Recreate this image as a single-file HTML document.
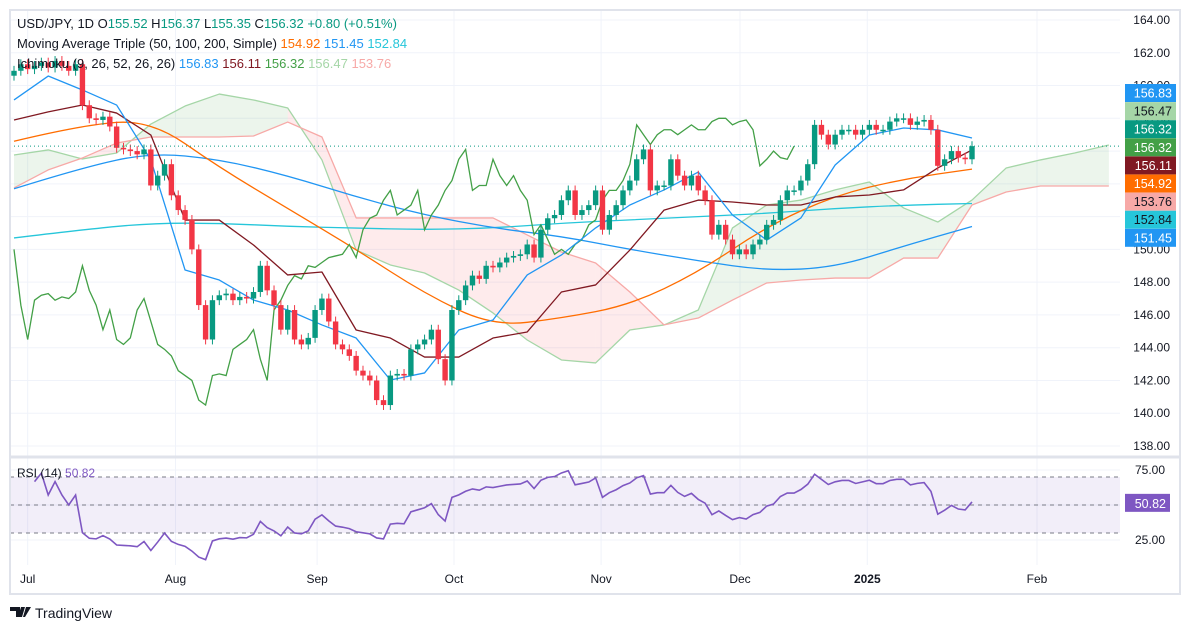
<!DOCTYPE html>
<html><head><meta charset="utf-8"><style>
html,body{margin:0;padding:0;background:#fff;}
body{width:1191px;height:632px;overflow:hidden;font-family:"Liberation Sans",sans-serif;}
svg text{font-family:"Liberation Sans",sans-serif;}
</style></head><body>
<svg id="chart" width="1191" height="632" xmlns="http://www.w3.org/2000/svg">
<rect x="0" y="0" width="1191" height="632" fill="#fff"/>
<g id="grid"></g>
<g id="cloud"></g>
<g id="lines"></g>
<g id="candles"></g>
<g id="rsi"></g>
<g id="axes"></g>
<rect x="10" y="10" width="1170" height="584" fill="none" stroke="#e0e3eb" stroke-width="2"/>
<line x1="10" y1="457" x2="1180" y2="457" stroke="#e0e3eb" stroke-width="3"/>
<text x="17" y="28" font-size="13" fill="#131722">USD/JPY, 1D  O<tspan fill="#089981">155.52</tspan>  H<tspan fill="#089981">156.37</tspan>  L<tspan fill="#089981">155.35</tspan>  C<tspan fill="#089981">156.32</tspan>  <tspan fill="#089981">+0.80 (+0.51%)</tspan></text>
<text x="17" y="48" font-size="13" fill="#131722">Moving Average Triple (50, 100, 200, Simple)  <tspan fill="#ff6d00">154.92</tspan>  <tspan fill="#2196f3">151.45</tspan>  <tspan fill="#26c6da">152.84</tspan></text>
<text x="17" y="68" font-size="13" fill="#131722">Ichimoku (9, 26, 52, 26, 26)  <tspan fill="#2196f3">156.83</tspan>  <tspan fill="#801922">156.11</tspan>  <tspan fill="#43a047">156.32</tspan>  <tspan fill="#a5d6a7">156.47</tspan>  <tspan fill="#f7a9a7">153.76</tspan></text>
<text x="17" y="477" font-size="12" fill="#131722">RSI (14)  <tspan fill="#7e57c2">50.82</tspan></text>
<g>
<path d="M10 607h10v10h-4v-6h-6z M21 607h4l-3 10h-4z M26 607h5l-6 10h-2z" fill="#131722"/>
<text x="35" y="618" font-size="14" fill="#131722">TradingView</text>
</g>
</svg>
<script>
const closes=[160.9,161.3,161.0,161.2,161.4,161.1,161.5,161.2,160.9,161.3,
158.8,158.0,157.9,158.1,157.5,156.2,156.1,156.0,155.8,156.1,
153.9,154.5,155.2,153.3,152.4,151.8,150.0,146.6,144.5,146.9,
147.2,147.3,146.9,147.1,147.0,147.4,149.0,147.5,146.6,145.1,
146.3,144.5,144.2,144.6,146.3,147.0,145.6,144.2,143.9,143.5,
142.6,142.3,142.0,140.8,140.5,142.3,142.4,142.3,143.9,144.2,
144.5,145.1,143.3,142.0,146.3,146.9,147.8,148.4,148.2,149.0,
148.9,149.2,149.5,149.6,149.7,150.3,149.5,151.2,151.9,152.1,
153.0,153.6,152.1,152.4,152.7,153.6,151.2,152.1,152.7,153.6,
154.2,155.5,156.1,153.6,153.9,153.9,155.5,154.5,153.9,154.5,
153.6,153.0,150.9,151.5,150.6,149.7,150.0,149.7,150.3,150.6,
151.5,151.8,153.0,153.6,153.6,154.2,155.2,157.6,157.0,156.4,
157.0,157.3,157.3,157.0,157.3,157.6,157.3,157.3,157.8,158.0,
158.0,157.6,157.8,157.9,157.3,155.1,155.5,156.0,155.6,155.5,
156.3];
// MA samples every 10 bars
const ma50=[156.6,157.6,157.9,155.0,152.5,150.0,147.3,145.3,145.8,146.6,148.6,151.4,153.3,154.3,154.9];
const ma100=[153.7,155.0,155.9,155.5,154.5,153.2,152.1,151.3,150.8,150.0,149.3,148.7,148.9,150.2,151.4];
const ma200=[150.7,151.2,151.6,151.6,151.4,151.3,151.2,151.3,151.6,151.8,152.0,152.2,152.5,152.7,152.8];
// Ichimoku samples every 5 bars
const tenkan=[159.12,160.58,159.73,158.81,155.46,148.74,148.13,146.91,146.30,145.39,144.59,142.03,142.46,145.08,145.69,148.44,149.66,151.31,152.71,153.63,154.72,152.10,150.57,151.92,155.15,156.98,157.41,157.29,156.80];
const kijun=[157.90,158.39,158.81,158.32,156.98,151.79,151.79,150.27,148.44,148.62,145.08,144.59,143.43,143.43,144.59,144.96,147.40,147.83,149.96,152.40,153.01,152.89,152.71,152.71,153.20,153.32,153.63,154.97,156.07];
const spanA=[155.76,156.07,155.52,155.88,157.65,158.75,159.48,159.12,158.63,155.46,149.96,149.05,148.56,147.52,146.12,144.47,143.25,143.07,145.08,145.39,146.30,151.31,152.71,153.01,153.63,154.11,152.53,151.67,153.01,154.97,155.46,155.88,156.37];
const spanB=[153.75,154.85,155.58,156.49,156.86,156.86,156.86,156.92,157.77,156.86,151.92,151.92,151.92,151.92,151.92,150.88,149.84,149.17,147.40,145.39,145.81,146.91,147.95,148.13,148.25,148.25,149.47,149.47,152.71,153.50,153.87,153.87,153.87];
const priceTicks=[164,162,160,158,156,154,152,150,148,146,144,142,140,138];
const rsiTicks=[75,25];
const dateLabels=["Jul","Aug","Sep","Oct","Nov","Dec","2025","Feb"];
const dateBars=[2,23.6,44.3,64.3,85.8,106.1,124.7,149.5];
const badgeLabels=["156.83","156.47","156.32","156.32","156.11","154.92","153.76","152.84","151.45"];

const NS="http://www.w3.org/2000/svg";
function el(tag,attrs,parent){const e=document.createElementNS(NS,tag);for(const k in attrs)e.setAttribute(k,attrs[k]);parent.appendChild(e);return e;}
const X0=14,STEP=(972-14)/(closes.length-1);
const xb=i=>X0+i*STEP;
const yp=p=>20+(164-p)*16.385;
const yr=v=>505-(v-50)*1.4;
const G=id=>document.getElementById(id);

const grid=G('grid');
priceTicks.forEach(p=>{const l=el('line',{x1:10,x2:1120,y1:yp(p),y2:yp(p),stroke:'#f0f3fa'},grid);

});
dateBars.forEach(b=>{const l=el('line',{x1:xb(b),x2:xb(b),y1:10,y2:565,stroke:'#f0f3fa'},grid);

});
[rsiTicks[0],50,rsiTicks[1]].forEach(v=>{const l=el('line',{x1:10,x2:1120,y1:yr(v),y2:yr(v),stroke:'#f0f3fa'},grid);

});

const cloud=G('cloud');
for(let k=0;k<spanA.length-1;k++){
  const xa=xb(k*5),xc=Math.min(xb((k+1)*5),1120);
  const a0=spanA[k],a1=spanA[k+1],b0=spanB[k],b1=spanB[k+1];
  const up=(a0+a1)>=(b0+b1);
  const q=el('polygon',{points:`${xa},${yp(a0)} ${xc},${yp(a1)} ${xc},${yp(b1)} ${xa},${yp(b0)}`,fill:up?'rgba(67,160,71,0.10)':'rgba(242,54,69,0.10)'},cloud);
  
  
}
function pts(arr,step){return arr.map((v,i)=>[Math.min(xb(i*step),1120),yp(v)]);}
function smoothPath(p){let d=`M${p[0][0]},${p[0][1]}`;
  for(let i=1;i<p.length-1;i++){const mx=(p[i][0]+p[i+1][0])/2,my=(p[i][1]+p[i+1][1])/2;d+=` Q${p[i][0]},${p[i][1]} ${mx},${my}`;}
  const l=p[p.length-1];d+=` L${l[0]},${l[1]}`;return d;}
function sparseLine(arr,step,color,name,smooth){
  const p=pts(arr,step);
  const d=smooth?smoothPath(p):'M'+p.map(q=>q.join(',')).join(' L');
  const l=el('path',{d:d,fill:'none',stroke:color,'stroke-width':1.3,'stroke-linejoin':'round'},G('lines'));
  
  
}
sparseLine(spanA,5,'#a5d6a7','senkou-span-a');
sparseLine(spanB,5,'#f7a9a7','senkou-span-b');
sparseLine(ma200,10,'#26c6da','ma-200',true);
sparseLine(ma100,10,'#2196f3','ma-100',true);
sparseLine(ma50,10,'#ff6d00','ma-50',true);
{const p=[];for(let i=26;i<closes.length;i++)p.push(`${xb(i-26)},${yp(closes[i])}`);
const l=el('polyline',{points:p.join(' '),fill:'none',stroke:'#43a047','stroke-width':1.3},G('lines'));

}
sparseLine(kijun,5,'#801922','kijun-sen');
sparseLine(tenkan,5,'#2196f3','tenkan-sen');

const cg=G('candles');
for(let i=0;i<closes.length;i++){
  const c=closes[i],o=i?closes[i-1]:c-0.3;
  const upc=c>=o,col=upc?'#089981':'#f23645';
  const hi=Math.max(o,c)+0.3,lo=Math.min(o,c)-0.3,x=xb(i);
  const g=el('g',{},cg);
  
  
  el('line',{x1:x,x2:x,y1:yp(hi),y2:yp(lo),stroke:col,'stroke-width':1},g);
  el('rect',{x:x-2.7,y:yp(Math.max(o,c)),width:5.4,height:Math.max(1.5,Math.abs(yp(o)-yp(c))),fill:col},g);
}
const last=closes[closes.length-1];
{const l=el('line',{x1:10,x2:1120,y1:yp(last),y2:yp(last),stroke:'#089981','stroke-dasharray':'1 3'},cg);

}

const rg=G('rsi');
{const b=el('rect',{x:10,y:yr(70),width:1110,height:yr(30)-yr(70),fill:'rgba(126,87,194,0.1)'},rg);

}
[70,50,30].forEach(v=>{const l=el('line',{x1:10,x2:1120,y1:yr(v),y2:yr(v),stroke:'#787b86','stroke-dasharray':'4 4'},rg);

});
let ag=0,al=0;const rsiPts=[];
for(let i=1;i<closes.length;i++){
  const d=closes[i]-closes[i-1],gg=Math.max(d,0),ll=Math.max(-d,0);
  if(i<=14){ag+=gg/14;al+=ll/14;}else{ag=(ag*13+gg)/14;al=(al*13+ll)/14;}
  if(i>=3){const r=al===0?100:100-100/(1+ag/al);rsiPts.push(`${xb(i)},${yr(r)}`);}
}
{const l=el('polyline',{points:rsiPts.join(' '),fill:'none',stroke:'#7e57c2','stroke-width':1.6},rg);

}

const ax=G('axes');
priceTicks.forEach(p=>{const t=el('text',{x:1170,y:yp(p)+4,'font-size':12,fill:'#131722','text-anchor':'end'},ax);t.textContent=p.toFixed(2);

});
rsiTicks.forEach(v=>{const t=el('text',{x:1165,y:yr(v)+4,'font-size':12,fill:'#131722','text-anchor':'end'},ax);t.textContent=v.toFixed(2);

});
dateLabels.forEach((s,i)=>{const t=el('text',{x:xb(dateBars[i]),y:583,'font-size':12,fill:'#131722','text-anchor':'middle','font-weight':s==='2025'?'bold':'normal'},ax);t.textContent=s;

});
const badgeColors=['#2196f3','#a5d6a7','#089981','#43a047','#801922','#ff6d00','#f7a9a7','#26c6da','#2196f3'];
const badgeText=['#fff','#131722','#fff','#fff','#fff','#fff','#131722','#131722','#fff'];
badgeLabels.forEach((s,i)=>{const cy=93+i*18.1;
  const g=el('g',{},ax);
  
  
  el('rect',{x:1125,y:cy-9,width:51,height:18,fill:badgeColors[i]},g);
  const t=el('text',{x:1172,y:cy+4.5,'font-size':12.5,fill:badgeText[i],'text-anchor':'end'},g);t.textContent=s;});
{const g=el('g',{},ax);


el('rect',{x:1125,y:yr(50.82)-10,width:45,height:18,fill:'#7e57c2'},g);
const t=el('text',{x:1166,y:yr(50.82)+4,'font-size':12.5,fill:'#fff','text-anchor':'end'},g);t.textContent='50.82';}
</script>
</body></html>
